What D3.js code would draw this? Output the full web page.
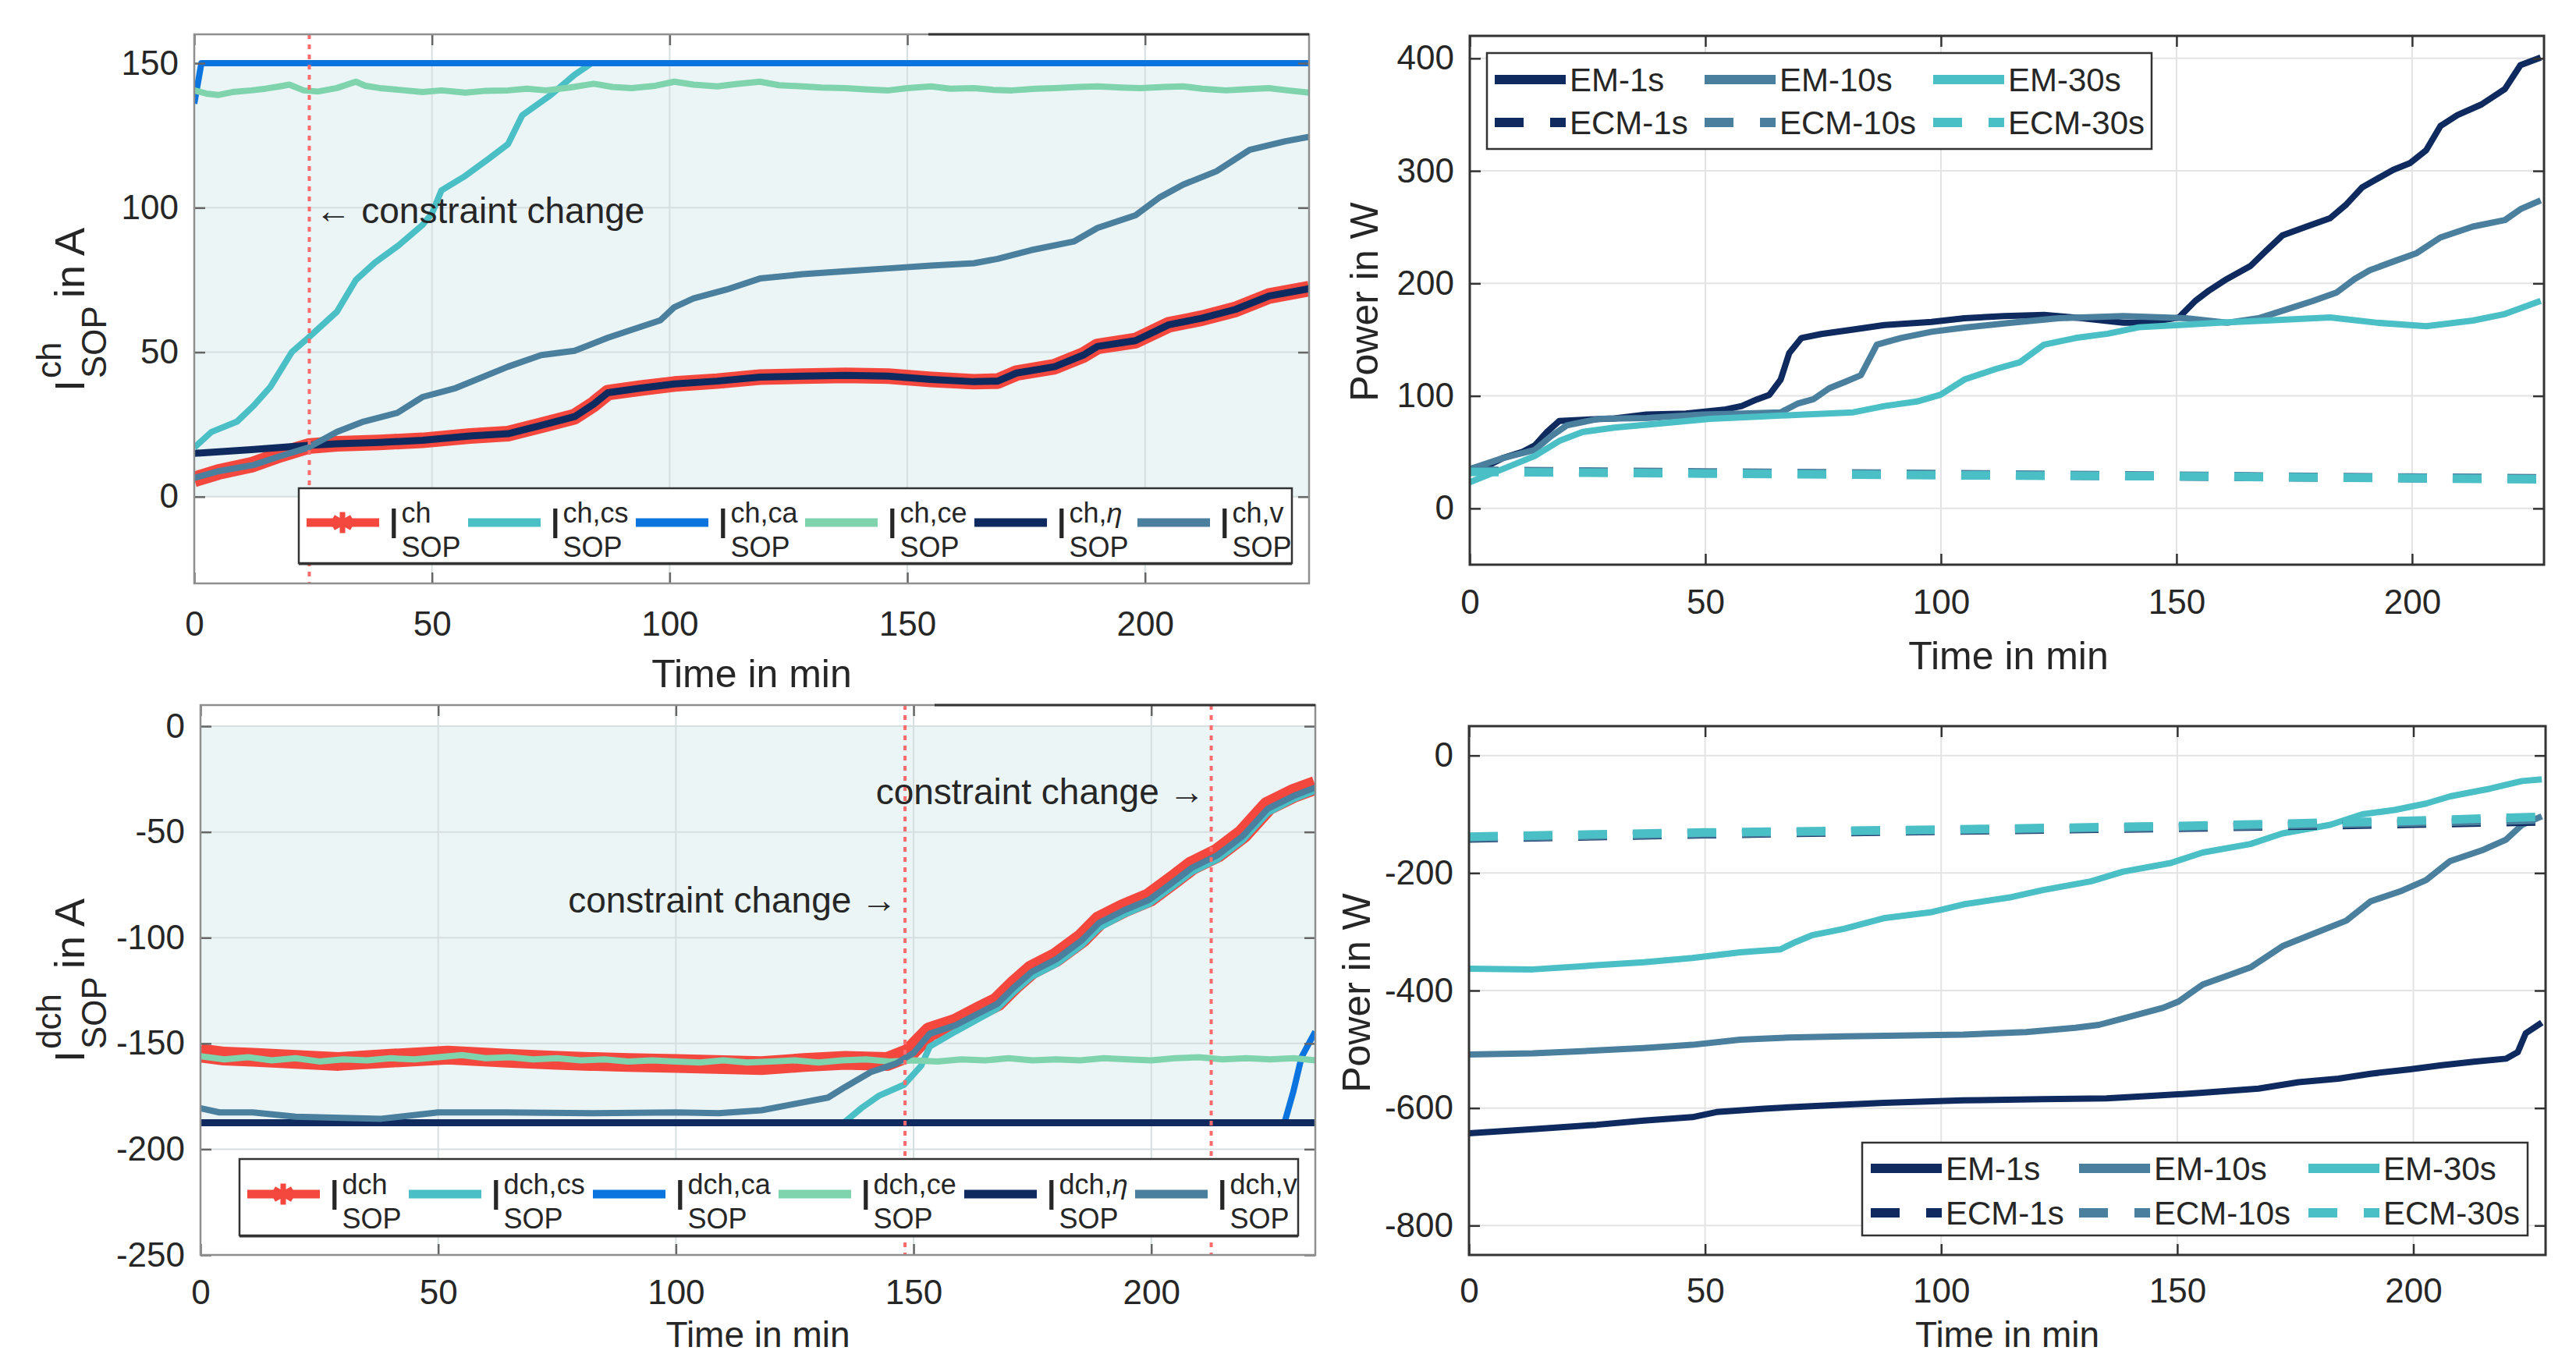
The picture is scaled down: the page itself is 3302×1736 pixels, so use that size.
<!DOCTYPE html>
<html>
<head>
<meta charset="utf-8">
<script src="https://cdn.jsdelivr.net/npm/d3@7"></script>
<style>
  body { margin: 0; background: #fff; }
  svg { display: block; font-family: "Liberation Sans", Arial, sans-serif; }
</style>
</head>
<body>
<div id="chart"></div>
<script>
// ---- data: [time in min, value] ----

// charge current limits (A)
const chSop = [[0,6],[5,8.5],[12,11],[18,14.5],[24,17.5],[30,18.3],[39,18.8],[48,19.5],[58,21],[66,21.8],[73,24.7],[80,27.7],[84,32],[87,36],[94,37.6],[101,39],[110,40],[119,41.4],[128,41.7],[137,42],[146,41.7],[155,40.6],[164,39.8],[169,40],[173,42.8],[181,45],[187,49],[190,52],[198,54],[205,59.5],[212,61.8],[219,64.8],[226,69.4],[234.5,72]];
const chCs = [[0,17],[3.6,22.4],[9,26],[12.5,31.5],[16,38],[20.5,50],[24,55],[30,64],[34,75],[38,81],[43,87],[48,94],[50,98],[52,106],[57,111],[62,117],[66,122],[69,132],[75,139],[80,146],[83.6,150],[234.5,150]];
const chCa = [[0,136],[1.5,150],[234.5,150]];
const chCe = [[0,140.6],[2.5,139.5],[5,139],[8,140],[12,140.6],[15,141.2],[18,142],[20,142.6],[23,140.6],[26,140.2],[30,141.4],[34,143.6],[36,142.2],[39,141.4],[43,140.8],[48,140],[52,140.6],[57,139.8],[61,140.4],[66,140.6],[70,141.2],[74,140.6],[79,141.6],[84,142.9],[88,141.8],[92,141.4],[97,142.2],[101,143.6],[105,142.6],[110,142],[114,142.8],[119,143.6],[123,142.4],[128,142],[132,141.6],[137,141.4],[141,141],[146,140.6],[150,141.4],[155,142],[159,141.2],[164,141.4],[168,140.8],[172,140.6],[177,141.2],[181,141.4],[186,141.8],[190,142],[195,141.6],[199,141.4],[204,141.8],[208,142],[212,141.2],[217,140.6],[221,141],[226,141.4],[230,140.6],[234.5,139.8]];
const chEta = [[0,15],[12,16.3],[24,17.8],[30,18.3],[39,18.8],[48,19.5],[58,21],[66,21.8],[73,24.7],[80,27.7],[84,32],[87,36],[94,37.6],[101,39],[110,40],[119,41.4],[128,41.7],[137,42],[146,41.7],[155,40.6],[164,39.8],[169,40],[173,42.8],[181,45],[187,49],[190,52],[198,54],[205,59.5],[212,61.8],[219,64.8],[226,69.4],[234.5,72]];
const chV = [[0,6.5],[5,8.8],[12.5,11],[18,14],[24,17],[30,22.4],[35.6,26],[42.7,29],[48,34.5],[55,37.6],[66,45],[73,49],[80,50.5],[87,55],[98,61],[101,65.6],[105,68.6],[112,71.7],[119,75.5],[128,77],[137,78],[146,79],[155,80],[164,80.8],[169,82.3],[176,85.3],[185,88.3],[190,93],[198,97.4],[203,103.5],[208,108],[215,112.6],[222,120],[229.5,123],[234.5,124.5]];

// discharge current limits (A)
const dchSop = [[0,-154.5],[5,-156],[11,-156.5],[20,-157.5],[29,-158.5],[40,-157],[52,-155.5],[64.5,-157],[75,-158],[82,-158.5],[90,-159],[100,-159.5],[110,-160],[118,-160.5],[127,-159],[135.6,-158],[144.5,-158.5],[149,-154.5],[153.4,-144.4],[158.8,-140.4],[164,-134.4],[167.6,-130.3],[171.2,-122.3],[174.8,-115.2],[180,-109.2],[185.4,-100.2],[189,-92],[194.3,-86],[199.6,-81],[205,-72],[208.5,-66],[213.9,-60],[219.2,-51],[224.5,-37.8],[229.9,-31.8],[234.5,-28]];
const dchCs = [[135.6,-187],[139,-180.6],[142.8,-174.6],[148,-169.5],[151.6,-160.5],[153.4,-151.5],[158.8,-144.4],[164,-138],[167.6,-133.5],[171.2,-125.5],[174.8,-118.5],[180,-112.5],[185.4,-103.5],[189,-95.5],[194.3,-89],[199.6,-84],[205,-75],[208.5,-69],[213.9,-63],[219.2,-54],[224.5,-41],[229.9,-34.5],[234.5,-30.5]];
const dchCa = [[228,-187.6],[229.9,-172.6],[231.6,-156.5],[234.5,-144.4]];
const dchCe = [[0,-156],[5,-157.5],[10,-156.5],[15,-158],[20,-157],[25,-158.5],[30,-157.5],[35,-158],[40,-157],[45,-157.5],[50,-156.5],[55,-155.5],[60,-157],[65,-156.5],[70,-157.5],[75,-157],[80,-158],[85,-157.5],[90,-158.5],[95,-158],[100,-158.5],[105,-159],[110,-158],[115,-159],[120,-158.5],[125,-158],[130,-159],[135,-158],[140,-157.5],[145,-158.5],[150,-158],[155,-158.5],[160,-157.5],[165,-158],[170,-157],[175,-158],[180,-157.5],[185,-158],[190,-157],[195,-157.5],[200,-158],[205,-157],[210,-156.5],[215,-157.5],[220,-157],[225,-157.5],[230,-157],[234.5,-158]];
const dchEta = [[0,-187.5],[234.5,-187.5]];
const dchV = [[0,-180.6],[4,-182.6],[11,-182.6],[20,-184.6],[38,-185.6],[50,-182.6],[64,-182.6],[82,-183],[100,-182.6],[109,-183],[118,-181.6],[125,-178.6],[132,-175.6],[135.6,-170.6],[141,-163.5],[146.3,-159.5],[150,-154.5],[153.4,-145.4],[158.8,-141.4],[164,-135.4],[167.6,-131.3],[171.2,-123.3],[174.8,-116.2],[180,-110.2],[185.4,-101.2],[189,-93],[194.3,-87],[199.6,-82],[205,-73],[208.5,-67],[213.9,-61],[219.2,-52],[224.5,-39],[229.9,-33],[234.5,-29]];

// charge power (W)
const pChEM1 = [[0,35],[3.7,37.7],[7,44.7],[11.3,50.5],[13.8,56],[16.4,68],[19,77.7],[24,78.8],[30.7,80],[37.5,83.5],[45.9,84.3],[54.3,88],[57.7,91],[61,97],[63.6,101],[66,114.6],[67.8,138],[70.4,151.5],[74.6,155],[81.4,159],[88,163],[98,165.8],[105,169],[113.4,171],[121.9,172],[130,169],[138.7,165],[143.8,165],[150.5,169.7],[154,184.5],[157,194],[160.7,203.9],[165.7,215.5],[169,229],[172.5,242.7],[177.6,250.5],[182.6,258],[186,270],[189.4,285.4],[196,301],[199.5,306.8],[203,318.4],[206,339.8],[209.6,349.5],[214.7,359],[219.7,372.8],[223,394],[227.3,400.8]];
const pChEM10 = [[0,35],[7,44.7],[13.8,52],[17.2,64],[20.6,73.8],[27.3,79.6],[37.5,80.4],[49.3,83.5],[57.7,84.3],[66,85.4],[69.5,93],[72.9,97],[76.3,106.8],[79.7,112.6],[83,118.4],[86.4,145.6],[91.5,151.5],[98,157],[105,160.8],[115,165],[125,169],[138.7,171],[152,169],[160.7,165],[167.4,169],[172.5,175.7],[179,184.5],[184,192],[187.8,203.9],[191,211.7],[196,219.4],[201,227],[206,240.8],[212.9,250.5],[219.7,256.3],[223,266],[227.3,273.8]];
const pChEM30 = [[0,23.3],[7,35],[13.8,46.6],[19,60],[24,68],[30.7,71.8],[40.8,75.7],[51,79.6],[61,81.5],[71,83.5],[81.4,85.4],[88,91],[94.9,95],[99.9,101],[105,114.6],[111.7,124],[116.8,130],[121.9,145.6],[128.6,151.5],[135.4,155.3],[142,161],[150.5,163],[159,165],[169,167],[182.6,169.7],[192.7,165],[203,161.9],[212.9,167],[219.7,172.8],[227.3,184.5]];
const pChECM1 = [[0,33],[50,31.5],[100,30],[150,28.5],[200,27],[228,26.5]];
const pChECM10 = [[0,33.5],[50,32],[100,30.5],[150,29],[200,27.4],[228,26.8]];
const pChECM30 = [[0,32.5],[50,31],[100,29.5],[150,28.5],[200,26.8],[228,25.8]];

// discharge power (W)
const pDchEM1 = [[0,-643],[13.5,-635.8],[27,-628.5],[37,-621.3],[47.3,-615.5],[52.4,-606.8],[62.5,-601],[74.3,-596],[87.8,-591],[104.7,-587],[121.6,-585],[135,-583.6],[145.3,-579],[155.4,-574],[167.2,-567],[175.7,-556],[184.1,-550],[190.9,-541.6],[199.3,-534],[206,-527],[212.8,-521],[219.6,-516],[222.1,-505],[223.8,-472.7],[227.2,-454.6]];
const pDchEM10 = [[0,-509],[13.5,-507],[27,-502],[37,-498],[47.3,-492.4],[57.4,-483.7],[67.6,-480],[79.4,-478],[91.2,-476.5],[104.7,-475],[118,-470.7],[128.4,-463.4],[133.4,-458.4],[138.5,-447.5],[147,-429.4],[150.3,-418.5],[155.4,-389.6],[160.5,-375],[165.5,-360.6],[172.3,-324.4],[179,-302.7],[185.8,-281],[190.9,-248.4],[197.6,-230],[202.7,-212],[207.8,-179.6],[214.5,-161.5],[219.6,-143.4],[223,-118],[227.2,-103.5]];
const pDchEM30 = [[0,-362.8],[13.5,-364],[27,-357],[37,-352],[47.3,-344.7],[57.4,-335],[65.9,-330],[69.3,-317],[72.6,-306],[79.4,-295],[87.8,-277],[98,-266.5],[104.7,-253.4],[114.9,-241],[121.6,-229],[131.8,-214],[138.5,-197.7],[148.6,-183],[155.4,-165],[165.5,-150.6],[172.3,-132.5],[182.4,-118],[189.2,-100],[196,-92.7],[202.7,-81.8],[207.8,-69.5],[216.2,-56.5],[223,-43.4],[227.2,-40.5]];
const pDchECM1 = [[0,-141],[50,-134],[100,-128],[150,-123],[200,-116],[228,-112]];
const pDchECM10 = [[0,-140],[50,-133],[100,-127],[150,-122],[200,-114],[228,-109]];
const pDchECM30 = [[0,-138],[50,-131],[100,-126],[150,-120],[200,-111],[228,-104]];

// feasible current bands and constraint change instants
const chBand = [0, 150];
const dchBand = [-188, 0];
const chConstraintTimes = [24.2];
const dchConstraintTimes = [148.2, 212.6];

// tick values
const timeTicks = [0, 50, 100, 150, 200];
const chTicks = [0, 50, 100, 150];
const dchTicks = [-250, -200, -150, -100, -50, 0];
const pChTicks = [0, 100, 200, 300, 400];
const pDchTicks = [-800, -600, -400, -200, 0];

const sopSups = ["", "cs", "ca", "ce", "\u03b7", "v"];
const modelNames = ["EM-1s", "EM-10s", "EM-30s", "ECM-1s", "ECM-10s", "ECM-30s"];

// ---- styling ----
const red = "#f4473e", cyan = "#4bbfc6", blue = "#0b74de", mint = "#7fd4ae", navy = "#0e2a5e", steel = "#4a7f9d";
const sopColors = [red, cyan, blue, mint, navy, steel];
const modelColors = [navy, steel, cyan, navy, steel, cyan];
const textColor = "#262626";

const svg = d3.select("#chart").append("svg")
    .attr("width", 3302)
    .attr("height", 1736);

// Build one axes box with grid, ticks and labels
function makePanel(cfg) {
    const x = d3.scaleLinear().domain(cfg.xDomain).range([cfg.left, cfg.right]);
    const y = d3.scaleLinear().domain(cfg.yDomain).range([cfg.bottom, cfg.top]);
    const w = cfg.right - cfg.left, h = cfg.bottom - cfg.top;
    const g = svg.append("g");

    svg.append("clipPath").attr("id", "clip-" + cfg.id)
        .append("rect").attr("x", cfg.left).attr("y", cfg.top).attr("width", w).attr("height", h);

    if (cfg.band) {
        g.append("rect")
            .attr("x", cfg.left)
            .attr("width", w)
            .attr("y", y(cfg.band[1]))
            .attr("height", y(cfg.band[0]) - y(cfg.band[1]))
            .attr("fill", "#ebf5f6");
    }

    // grid
    const grid = g.append("g").attr("stroke", cfg.gridColor).attr("stroke-width", 2);
    cfg.xTicks.forEach(t => grid.append("line")
        .attr("x1", x(t)).attr("x2", x(t)).attr("y1", cfg.top).attr("y2", cfg.bottom));
    cfg.yTicks.forEach(t => grid.append("line")
        .attr("x1", cfg.left).attr("x2", cfg.right).attr("y1", y(t)).attr("y2", y(t)));

    const plot = g.append("g").attr("clip-path", `url(#clip-${cfg.id})`);
    const front = svg.append("g");
    return {x, y, g, plot, front, cfg};
}

function finishPanel(p) {
    const {x, y, cfg} = p;
    const f = p.front;
    const tick = 14;
    const fmt = d => String(d);   // plain hyphen minus like the original

    // axes with inward ticks, mirrored on top/right
    const styleAxis = sel => {
        sel.select(".domain").remove();
        sel.selectAll(".tick line").attr("stroke", cfg.tickColor).attr("stroke-width", 2.5);
        sel.selectAll(".tick text")
            .attr("fill", textColor)
            .attr("font-size", 44)
            .attr("font-family", "'Liberation Sans', Arial, sans-serif");
    };
    f.append("g").attr("transform", `translate(0,${cfg.bottom})`)
        .call(d3.axisBottom(x).tickValues(cfg.xTicks).tickSize(-tick).tickPadding(cfg.xPad).tickFormat(fmt))
        .call(styleAxis);
    f.append("g").attr("transform", `translate(0,${cfg.top})`)
        .call(d3.axisTop(x).tickValues(cfg.xTicks).tickSize(-tick).tickFormat(""))
        .call(styleAxis);
    f.append("g").attr("transform", `translate(${cfg.left},0)`)
        .call(d3.axisLeft(y).tickValues(cfg.yTicks).tickSize(-tick).tickPadding(20).tickFormat(fmt))
        .call(styleAxis);
    f.append("g").attr("transform", `translate(${cfg.right},0)`)
        .call(d3.axisRight(y).tickValues(cfg.yTicks).tickSize(-tick).tickFormat(""))
        .call(styleAxis);

    f.append("rect")
        .attr("x", cfg.left).attr("y", cfg.top)
        .attr("width", cfg.right - cfg.left).attr("height", cfg.bottom - cfg.top)
        .attr("fill", "none")
        .attr("stroke", cfg.boxColor)
        .attr("stroke-width", cfg.boxWidth);

    if (cfg.darkTopFrom) {
        f.append("line")
            .attr("x1", cfg.darkTopFrom).attr("x2", cfg.right)
            .attr("y1", cfg.top).attr("y2", cfg.top)
            .attr("stroke", "#333").attr("stroke-width", 3);
    }

    // x label
    f.append("text")
        .attr("x", (cfg.left + cfg.right) / 2 + cfg.xLabelShift)
        .attr("y", cfg.xLabelY)
        .attr("text-anchor", "middle")
        .attr("font-size", cfg.xLabelSize)
        .attr("fill", textColor)
        .text("Time in min");
}

function drawLine(p, data, color, width, dash) {
    const line = d3.line().x(d => p.x(d[0])).y(d => p.y(d[1]));
    p.plot.append("path")
        .datum(data)
        .attr("fill", "none")
        .attr("stroke", color)
        .attr("stroke-width", width)
        .attr("stroke-linejoin", "round")
        .attr("stroke-dasharray", dash || null)
        .attr("d", line);
}

// "I" with stacked superscript / subscript SOP
function sopText(parent, sup, fsMain, fsSub, supDy, subDy, rest) {
    const g = parent.append("g").attr("fill", textColor);
    const main = g.append("text").attr("font-size", fsMain).text("I");
    const w = main.node().getComputedTextLength() + 2;
    const s1 = g.append("text").attr("x", w).attr("y", supDy).attr("font-size", fsSub);
    const parts = sup.split(",");
    s1.append("tspan").text(parts[0]);
    if (parts.length > 1) {
        s1.append("tspan").text(",");
        s1.append("tspan").attr("font-style", parts[1] === "\u03b7" ? "italic" : null).text(parts[1]);
    }
    const s2 = g.append("text").attr("x", w).attr("y", subDy).attr("font-size", fsSub).text("SOP");
    let end = w + Math.max(s1.node().getComputedTextLength(), s2.node().getComputedTextLength());
    if (rest) {
        const r = g.append("text").attr("x", end + 10).attr("font-size", fsMain).text(rest);
        end += 10 + r.node().getComputedTextLength();
    }
    return {g, width: end};
}

function sopYLabel(baseX, centerY, base) {
    const outer = svg.append("g").attr("transform", `translate(${baseX},${centerY}) rotate(-90)`);
    const lab = sopText(outer, base, 54, 44, -30, 28, " in A");
    lab.g.attr("transform", `translate(${-lab.width / 2},0)`);
}

function powerYLabel(baseX, centerY) {
    svg.append("text")
        .attr("transform", `translate(${baseX},${centerY}) rotate(-90)`)
        .attr("text-anchor", "middle")
        .attr("font-size", 50)
        .attr("fill", textColor)
        .text("Power in W");
}

function constraintLines(p, times) {
    times.forEach(t => {
        p.plot.append("line")
            .attr("x1", p.x(t)).attr("x2", p.x(t))
            .attr("y1", p.cfg.top).attr("y2", p.cfg.bottom)
            .attr("stroke", "#ff6b6b")
            .attr("stroke-width", 4)
            .attr("stroke-dasharray", "6,7");
    });
}

function annotate(p, t, yVal, txt, anchor, dx) {
    p.front.append("text")
        .attr("x", p.x(t) + dx)
        .attr("y", p.y(yVal))
        .attr("dy", "0.35em")
        .attr("text-anchor", anchor)
        .attr("font-size", 46)
        .attr("fill", textColor)
        .text(txt);
}

function sopLegend(p, box, starts, prefix) {
    const g = p.front.append("g");
    g.append("rect")
        .attr("x", box[0]).attr("y", box[1])
        .attr("width", box[2] - box[0]).attr("height", box[3] - box[1])
        .attr("fill", "#fff").attr("stroke", "#333").attr("stroke-width", 2.5);
    g.append("line")
        .attr("x1", box[0]).attr("x2", box[2])
        .attr("y1", box[3] + 1.5).attr("y2", box[3] + 1.5)
        .attr("stroke", "#333").attr("stroke-width", 2);
    const cy = (box[1] + box[3]) / 2;
    sopSups.forEach((s, i) => {
        const x0 = starts[i];
        g.append("line")
            .attr("x1", x0).attr("x2", x0 + 93)
            .attr("y1", cy - 4).attr("y2", cy - 4)
            .attr("stroke", sopColors[i]).attr("stroke-width", 11);
        if (i === 0) {
            g.append("path")
                .attr("transform", `translate(${x0 + 46},${cy - 4})`)
                .attr("d", d3.symbol(d3.symbolAsterisk || d3.symbolCross).size(520)())
                .attr("fill", d3.symbolAsterisk ? "none" : red)
                .attr("stroke", red).attr("stroke-width", 7);
        }
        const lab = sopText(g, s ? prefix + "," + s : prefix, 56, 36, -20, 24);
        lab.g.attr("transform", `translate(${x0 + 104},${cy + 16})`);
    });
}

function modelLegend(p, box, cols, rows) {
    const g = p.front.append("g");
    g.append("rect")
        .attr("x", box[0]).attr("y", box[1])
        .attr("width", box[2] - box[0]).attr("height", box[3] - box[1])
        .attr("fill", "#fff").attr("stroke", "#333").attr("stroke-width", 2.5);
    modelNames.forEach((name, i) => {
        const x0 = cols[i % 3], yy = rows[Math.floor(i / 3)];
        g.append("line")
            .attr("x1", x0).attr("x2", x0 + 91)
            .attr("y1", yy).attr("y2", yy)
            .attr("stroke", modelColors[i]).attr("stroke-width", 12)
            .attr("stroke-dasharray", i >= 3 ? "37,34" : null);
        g.append("text")
            .attr("x", x0 + 96).attr("y", yy)
            .attr("dy", "0.36em")
            .attr("font-size", 42)
            .attr("fill", textColor)
            .text(name);
    });
}

// ---- top left: charge current ----
const tl = makePanel({id: "tl", left: 249, top: 44, right: 1678, bottom: 748,
    xDomain: [0, 234.5], yDomain: [-30, 160], xTicks: timeTicks, yTicks: chTicks,
    band: chBand, gridColor: "#d6dedf", tickColor: "#666", boxColor: "#8f8f8f", boxWidth: 2.5,
    xPad: 36, xLabelY: 881, xLabelSize: 50, xLabelShift: 0, darkTopFrom: 1190});
drawLine(tl, chSop, red, 20);
drawLine(tl, chCs, cyan, 8);
drawLine(tl, chCa, blue, 8);
drawLine(tl, chCe, mint, 8);
drawLine(tl, chEta, navy, 9);
drawLine(tl, chV, steel, 8);
constraintLines(tl, chConstraintTimes);
finishPanel(tl);
annotate(tl, chConstraintTimes[0], 99, "\u2190 constraint change", "start", 8);
sopLegend(tl, [383, 626, 1656, 722], [393, 600, 815, 1032, 1249, 1458], "ch");
sopYLabel(108, 397, "ch");

// ---- bottom left: discharge current ----
const bl = makePanel({id: "bl", left: 257, top: 904, right: 1686, bottom: 1609,
    xDomain: [0, 234.5], yDomain: [-250, 10], xTicks: timeTicks, yTicks: dchTicks,
    band: dchBand, gridColor: "#d6dedf", tickColor: "#666", boxColor: "#8f8f8f", boxWidth: 2.5,
    xPad: 32, xLabelY: 1727, xLabelSize: 46, xLabelShift: 0, darkTopFrom: 1198});
drawLine(bl, dchSop, red, 24);
drawLine(bl, dchCs, cyan, 8);
drawLine(bl, dchCa, blue, 8);
drawLine(bl, dchCe, mint, 8);
drawLine(bl, dchEta, navy, 9);
drawLine(bl, dchV, steel, 8);
constraintLines(bl, dchConstraintTimes);
finishPanel(bl);
annotate(bl, dchConstraintTimes[0], -82, "constraint change \u2192", "end", -10);
annotate(bl, dchConstraintTimes[1], -31, "constraint change \u2192", "end", -8);
sopLegend(bl, [307, 1486, 1664, 1584], [317, 524, 760, 998, 1236, 1455], "dch");
sopYLabel(108, 1257, "dch");

// ---- top right: charge power ----
const tr = makePanel({id: "tr", left: 1884, top: 46, right: 3261, bottom: 724,
    xDomain: [0, 228], yDomain: [-50, 420], xTicks: timeTicks, yTicks: pChTicks,
    gridColor: "#e3e3e3", tickColor: "#333", boxColor: "#333", boxWidth: 3,
    xPad: 32, xLabelY: 858, xLabelSize: 50, xLabelShift: 2});
[pChEM1, pChEM10, pChEM30].forEach((d, i) => drawLine(tr, d, modelColors[i], 8));
[pChECM1, pChECM10, pChECM30].forEach((d, i) => drawLine(tr, d, modelColors[i + 3], 11, "37,33"));
finishPanel(tr);
modelLegend(tr, [1906, 68, 2758, 191], [1916, 2185, 2478], [102, 157]);
powerYLabel(1766, 387);

// ---- bottom right: discharge power ----
const br = makePanel({id: "br", left: 1883, top: 931, right: 3263, bottom: 1609,
    xDomain: [0, 228], yDomain: [-850, 50], xTicks: timeTicks, yTicks: pDchTicks,
    gridColor: "#e3e3e3", tickColor: "#333", boxColor: "#333", boxWidth: 3,
    xPad: 30, xLabelY: 1727, xLabelSize: 46, xLabelShift: 0});
[pDchEM1, pDchEM10, pDchEM30].forEach((d, i) => drawLine(br, d, modelColors[i], 8));
[pDchECM1, pDchECM10, pDchECM30].forEach((d, i) => drawLine(br, d, modelColors[i + 3], 11, "37,33"));
finishPanel(br);
modelLegend(br, [2387, 1465, 3240, 1584], [2398, 2665, 2959], [1498, 1555]);
powerYLabel(1756, 1273);
</script>
</body>
</html>
